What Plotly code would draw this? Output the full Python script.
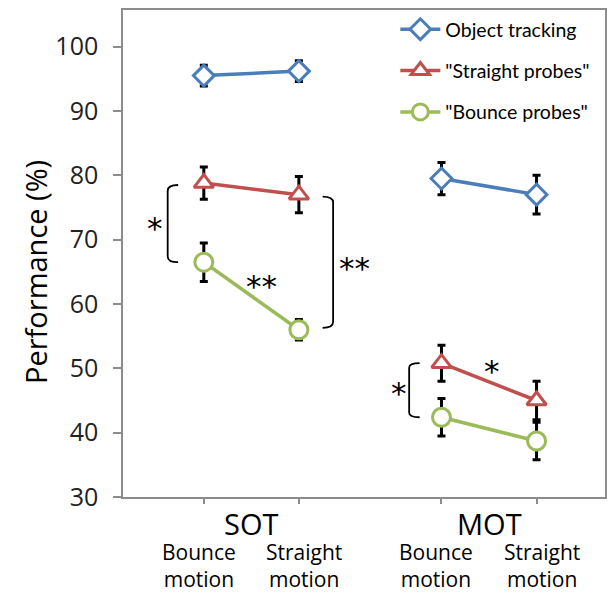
import plotly.graph_objects as go

# ---- data ----
conditions = ["SOT Bounce", "SOT Straight", "MOT Bounce", "MOT Straight"]
x_pos = [1, 2, 3.5, 4.5]
tick_labels = ["Bounce<br>motion", "Straight<br>motion", "Bounce<br>motion", "Straight<br>motion"]
group_labels = ["SOT", "MOT"]
group_centers = [1.5, 4.0]

object_tracking = [95.5, 96.2, 79.5, 77.0]
object_tracking_err = [1.6, 1.6, 2.5, 3.0]
straight_probes = [78.8, 77.0, 50.8, 45.0]
straight_probes_err = [2.5, 2.8, 2.8, 3.0]
bounce_probes = [66.5, 56.0, 42.4, 38.7]
bounce_probes_err = [3.0, 1.6, 2.9, 2.9]

series_names = ["Object tracking", "\"Straight probes\"", "\"Bounce probes\""]
series_vals = [object_tracking, straight_probes, bounce_probes]
series_errs = [object_tracking_err, straight_probes_err, bounce_probes_err]
colors = ["#4A7EBB", "#C0504D", "#9BBB59"]
symbols = ["diamond", "triangle-up", "circle"]
msizes = [16, 17, 18]

fig = go.Figure()
for i, (name, vals, errs) in enumerate(zip(series_names, series_vals, series_errs)):
    for a, b in [(0, 2), (2, 4)]:
        fig.add_trace(go.Scatter(
            x=x_pos[a:b], y=vals[a:b],
            mode="lines+markers",
            name=name,
            legendgroup=name,
            showlegend=(a == 0),
            line=dict(color=colors[i], width=3.5),
            marker=dict(symbol=symbols[i], size=msizes[i], color="white",
                        line=dict(color=colors[i], width=3)),
            error_y=dict(type="data", array=errs[a:b], color="black",
                         thickness=3, width=4),
        ))

def bracket(x_line, x_end, y_top, y_bot, r=0.9):
    xm = x_line
    return (f"M {x_end},{y_top} Q {xm},{y_top} {xm},{y_top - r} "
            f"L {xm},{y_bot + r} Q {xm},{y_bot} {x_end},{y_bot}")

shapes = [
    dict(type="path", path=bracket(0.62, 0.73, 78.5, 66.5), xref="x", yref="y",
         line=dict(color="black", width=1.8)),
    dict(type="path", path=bracket(2.36, 2.25, 76.7, 56.3), xref="x", yref="y",
         line=dict(color="black", width=1.8)),
    dict(type="path", path=bracket(3.16, 3.27, 50.8, 42.4, r=0.7), xref="x", yref="y",
         line=dict(color="black", width=1.8)),
]

annotations = []
stars = [("*", 0.49, 71.8), ("**", 1.61, 62.8), ("**", 2.58, 65.6),
         ("*", 3.05, 46.2), ("*", 4.03, 49.6)]
for t, x, y in stars:
    annotations.append(dict(text=t, x=x, y=y, xref="x", yref="y", showarrow=False,
                            font=dict(size=31, color="black", family="DejaVu Sans")))

for lab, xc in zip(group_labels, group_centers):
    annotations.append(dict(text=lab, x=xc, y=0, xref="x", yref="paper",
                            yanchor="top", yshift=-5, showarrow=False,
                            font=dict(size=29, color="black", family="Open Sans")))
for j, (lab, xc) in enumerate(zip(tick_labels, x_pos)):
    xs = -5 if j % 2 == 0 else 5
    annotations.append(dict(text=lab, x=xc, y=0, xref="x", yref="paper", xshift=xs,
                            yanchor="middle", yshift=-68.5, showarrow=False,
                            font=dict(size=21, color="black", family="Open Sans")))

# y-axis title
annotations.append(dict(text="Performance (%)", x=0, y=0.462, xref="paper", yref="paper",
                        xanchor="center", yanchor="middle",
                        xshift=-88, textangle=-90, showarrow=False,
                        font=dict(size=29, family="Open Sans", color="black")))

fig.update_layout(
    width=607, height=593,
    margin=dict(l=123, r=2, t=10, b=96, autoexpand=False),
    paper_bgcolor="white", plot_bgcolor="white",
    shapes=shapes, annotations=annotations,
    showlegend=True,
    legend=dict(x=0.565, y=1.0, xanchor="left", yanchor="top",
                bgcolor="rgba(0,0,0,0)", tracegroupgap=13,
                font=dict(size=19.5, family="Lato", color="black"),
                itemwidth=40),
    font=dict(family="Open Sans", color="black"),
)
fig.update_xaxes(range=[0.15, 5.22], tickvals=x_pos, ticktext=["", "", "", ""],
                 showgrid=False, zeroline=False, showline=True, linecolor="#8c8c8c",
                 linewidth=1.5, mirror=True, ticks="outside", ticklen=5,
                 tickcolor="#8c8c8c", tickwidth=1.5, automargin=False)
fig.update_yaxes(range=[30, 105.7], tickvals=[30, 40, 50, 60, 70, 80, 90, 100],
                 showgrid=False, zeroline=False, showline=True, linecolor="#8c8c8c",
                 linewidth=1.5, mirror=True, ticks="outside", ticklen=8,
                 tickcolor="#8c8c8c", tickwidth=1.5, automargin=False,
                 ticklabelstandoff=10,
                 tickfont=dict(size=25, family="Open Sans", color="#222"))

fig.write_html("out.html", post_script="document.body.style.margin='0';",
               config={"displayModeBar": False})
